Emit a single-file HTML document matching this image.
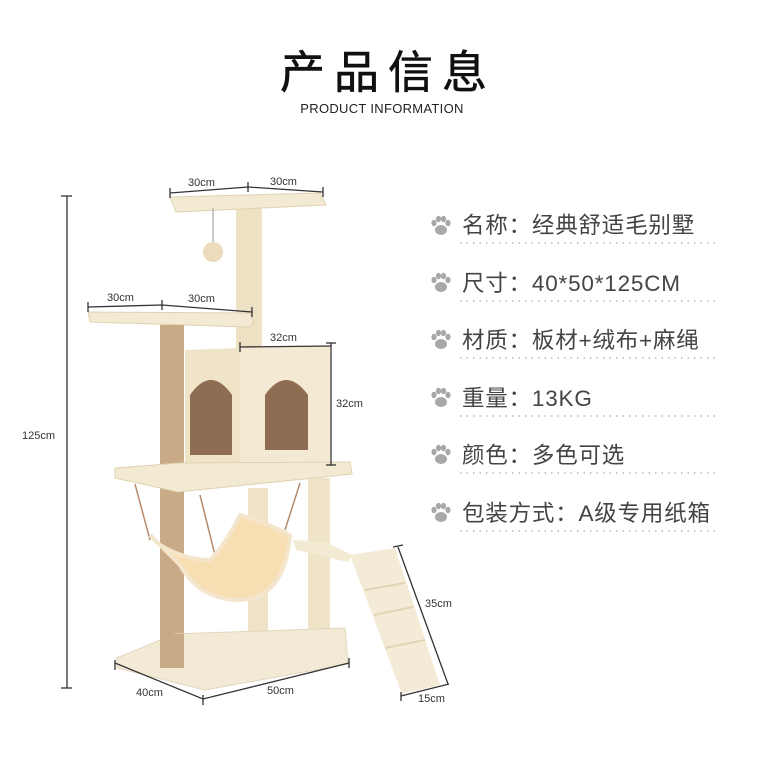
<!DOCTYPE html>
<html><head><meta charset="utf-8"><style>
html,body{margin:0;padding:0;background:#fff;width:760px;height:760px;overflow:hidden;}
svg{display:block}
</style></head><body>
<svg width="760" height="760" viewBox="0 0 760 760" xmlns="http://www.w3.org/2000/svg">
<defs>
<g id="paw" fill="#a8a8a8">
<ellipse cx="0" cy="4" rx="6" ry="5"/>
<ellipse cx="-7" cy="-3" rx="2.6" ry="3.2"/>
<ellipse cx="-2.5" cy="-7" rx="2.6" ry="3.2"/>
<ellipse cx="2.5" cy="-7" rx="2.6" ry="3.2"/>
<ellipse cx="7" cy="-3" rx="2.6" ry="3.2"/>
</g>
</defs>
<text x="388" y="88" text-anchor="middle" font-family="'Liberation Sans','Noto Sans CJK SC',sans-serif" font-size="45" letter-spacing="9" fill="#111" stroke="#111" stroke-width="0.6">产品信息</text>
<text x="382" y="113" text-anchor="middle" font-family="'Liberation Sans',sans-serif" font-size="13" letter-spacing="0.3" fill="#222">PRODUCT INFORMATION</text>

<g font-family="'Liberation Sans','Noto Sans CJK SC',sans-serif" font-size="22.5" fill="#444" letter-spacing="0.8">
<use href="#paw" x="441" y="226"/><text x="462" y="233">名称：经典舒适毛别墅</text>
<use href="#paw" x="441" y="283"/><text x="462" y="291">尺寸：40*50*125CM</text>
<use href="#paw" x="441" y="340"/><text x="462" y="348">材质：板材+绒布+麻绳</text>
<use href="#paw" x="441" y="398"/><text x="462" y="406">重量：13KG</text>
<use href="#paw" x="441" y="455"/><text x="462" y="463">颜色：多色可选</text>
<use href="#paw" x="441" y="513"/><text x="462" y="521">包装方式：A级专用纸箱</text>
</g>
<g stroke="#aaa" stroke-width="1.3" stroke-dasharray="1.5 5">
<line x1="460" y1="243" x2="716" y2="243"/>
<line x1="460" y1="301" x2="716" y2="301"/>
<line x1="460" y1="358" x2="716" y2="358"/>
<line x1="460" y1="416" x2="716" y2="416"/>
<line x1="460" y1="473" x2="716" y2="473"/>
<line x1="460" y1="531" x2="716" y2="531"/>
</g>

<g>
<rect x="248" y="488" width="20" height="148" fill="#efe3c8"/>
<rect x="236" y="205" width="26" height="145" fill="#efe2c4"/>
<polygon points="170,197 320,193 326,205 176,212" fill="#f3ead3" stroke="#e0d2b0"/>
<line x1="213" y1="208" x2="213" y2="244" stroke="#999" stroke-width="1"/>
<circle cx="213" cy="252" r="10" fill="#ecdcbc"/>
<polygon points="88,312 250,313 254,323 248,327 90,322" fill="#f3ead3" stroke="#e0d2b0"/>
<rect x="160" y="325" width="24" height="343" fill="#c9aa86"/>
<polygon points="185,350 240,348 240,465 185,465" fill="#efe3c8"/>
<polygon points="240,348 330,346 330,465 240,465" fill="#f4ead4"/>
<path d="M190,455 L190,395 Q211,365 232,395 L232,455 Z" fill="#8f6d52"/>
<path d="M265,450 L265,395 Q286,365 308,395 L308,450 Z" fill="#8f6d52"/>
<rect x="308" y="478" width="22" height="178" fill="#efe3c8"/>
<polygon points="115,468 180,463 350,462 352,474 178,492 115,478" fill="#f3ead3" stroke="#e0d2b0"/>
<g stroke="#b88a6a" stroke-width="1.5" fill="none">
<line x1="135" y1="484" x2="150" y2="540"/>
<line x1="200" y1="495" x2="215" y2="555"/>
<line x1="300" y1="483" x2="285" y2="530"/>
</g>
<path d="M150,535 Q175,560 180,565 Q200,600 240,600 Q285,598 290,535 Q260,520 240,515 Q225,545 210,560 Q185,560 160,545 Z" fill="#f8deb3" stroke="#f3e6cc" stroke-width="4"/>
<polygon points="293,540 325,542 352,555 348,562 296,550" fill="#f3ead3"/>
<polygon points="350,555 395,548 440,685 402,694" fill="#f4ebd7"/>
<g stroke="#e2d3b5" stroke-width="2">
<line x1="365" y1="590" x2="405" y2="583"/>
<line x1="374" y1="615" x2="413" y2="607"/>
<line x1="385" y1="648" x2="425" y2="640"/>
</g>
<polygon points="117,658 175,634 345,628 348,664 205,690 117,668" fill="#f3ead6" stroke="#e2d6bb"/>
<rect x="160" y="634" width="24" height="34" fill="#c9aa86"/>
</g>

<g stroke="#333" stroke-width="1.3" fill="none">
<line x1="67" y1="196" x2="67" y2="688"/>
<line x1="61" y1="196" x2="72" y2="196"/>
<line x1="61" y1="688" x2="72" y2="688"/>
<polyline points="170,193 248,187 323,192"/>
<line x1="170" y1="188" x2="170" y2="198"/><line x1="248" y1="182" x2="248" y2="192"/><line x1="323" y1="187" x2="323" y2="197"/>
<polyline points="88,307 162,305 252,312"/>
<line x1="88" y1="302" x2="88" y2="312"/><line x1="162" y1="300" x2="162" y2="310"/><line x1="252" y1="307" x2="252" y2="317"/>
<line x1="240" y1="347" x2="331" y2="346"/>
<line x1="240" y1="342" x2="240" y2="352"/>
<line x1="331" y1="343" x2="331" y2="465"/>
<line x1="326" y1="343" x2="336" y2="343"/><line x1="326" y1="465" x2="336" y2="465"/>
<polyline points="115,663 203,699 349,663"/>
<line x1="115" y1="660" x2="115" y2="670"/><line x1="203" y1="695" x2="203" y2="705"/><line x1="349" y1="658" x2="349" y2="668"/>
<line x1="398" y1="547" x2="448" y2="684"/>
<line x1="393" y1="547" x2="403" y2="545"/>
<line x1="401" y1="696" x2="449" y2="684"/>
<line x1="401" y1="692" x2="401" y2="701"/>
</g>
<g font-family="'Liberation Sans',sans-serif" font-size="11" fill="#333">
<text x="22" y="439">125cm</text>
<text x="188" y="186">30cm</text>
<text x="270" y="185">30cm</text>
<text x="107" y="301">30cm</text>
<text x="188" y="302">30cm</text>
<text x="270" y="341">32cm</text>
<text x="336" y="407">32cm</text>
<text x="136" y="696">40cm</text>
<text x="267" y="694">50cm</text>
<text x="425" y="607">35cm</text>
<text x="418" y="702">15cm</text>
</g>
</svg>
</body></html>
